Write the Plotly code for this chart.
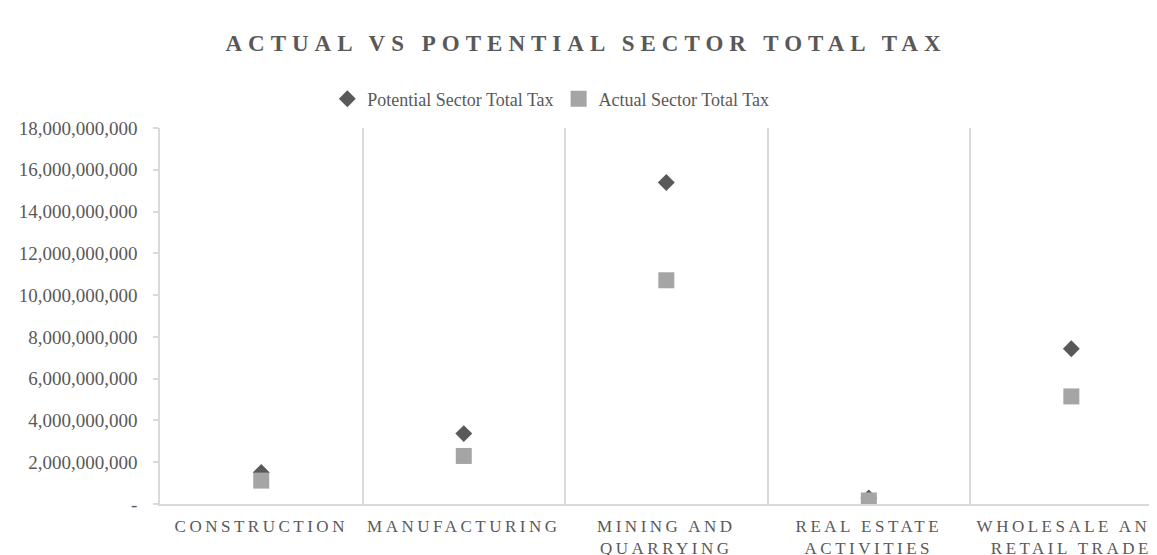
import plotly.graph_objects as go

categories = ["Construction", "Manufacturing", "Mining and Quarrying",
              "Real Estate Activities", "Wholesale and Retail Trade"]
category_labels = ["CONSTRUCTION", "MANUFACTURING", "MINING AND<br>QUARRYING",
                   "REAL ESTATE<br>ACTIVITIES", "WHOLESALE AND<br>RETAIL TRADE"]
potential_tax = [1.51e9, 3.37e9, 15.39e9, 0.29e9, 7.43e9]
actual_tax = [1.12e9, 2.30e9, 10.71e9, 0.17e9, 5.15e9]
y_tick_values = [0, 2e9, 4e9, 6e9, 8e9, 10e9, 12e9, 14e9, 16e9, 18e9]
y_tick_labels = ["-"] + [f"{v:,.0f}" for v in y_tick_values[1:]]

FONT = "Liberation Serif"
TXT = "#595959"
GRID = "#D9D9D9"

# page body has an 8px margin; the figure is sized to fill the visible window
W, H = 1149, 547


def spaced(s, ls):
    return "<br>".join(f'<span style="letter-spacing:{ls}px">{p}</span>' for p in s.split("<br>"))


fig = go.Figure()
fig.add_trace(go.Scatter(
    x=categories, y=potential_tax, mode="markers", name="Potential Sector Total Tax",
    marker=dict(symbol="diamond", size=13, color="#595959"),
))
fig.add_trace(go.Scatter(
    x=categories, y=actual_tax, mode="markers", name="Actual Sector Total Tax",
    marker=dict(symbol="square", size=16, color="#A5A5A5"),
))

fig.update_layout(
    width=W, height=H,
    margin=dict(l=152, r=0, t=119.5, b=50.5, autoexpand=False),
    paper_bgcolor="white", plot_bgcolor="white",
    font=dict(family=FONT, color=TXT),
    title=dict(
        text=spaced("<b>ACTUAL VS POTENTIAL SECTOR TOTAL TAX</b>", 6),
        x=(586 - 8) / W, xanchor="center", y=1 - (43 - 8) / H, yanchor="middle",
        font=dict(family=FONT, size=23, color=TXT),
    ),
    legend=dict(
        orientation="h", x=0.392, xanchor="center",
        yref="container", y=1 - (99 - 8) / H, yanchor="middle",
        font=dict(family=FONT, size=18, color=TXT),
        itemwidth=30, tracegroupgap=0,
    ),
    showlegend=True,
)

fig.update_xaxes(
    type="category", range=[-0.5, 4.423],
    tickvals=categories, ticktext=[spaced(l, 3.5) for l in category_labels],
    tickangle=0, automargin=False, ticklabelstandoff=6,
    tickson="boundaries", showgrid=True, gridcolor=GRID, gridwidth=1.5,
    showline=True, linecolor=GRID, linewidth=1.5,
    ticks="", tickfont=dict(family=FONT, size=17, color=TXT),
    zeroline=False,
)
fig.update_yaxes(
    range=[0, 18e9], tickvals=y_tick_values, ticktext=y_tick_labels,
    automargin=False,
    showgrid=False, zeroline=False,
    showline=True, linecolor=GRID, linewidth=1.5,
    ticks="outside", ticklen=5, tickcolor=GRID, tickwidth=1.5,
    ticklabelstandoff=12,
    tickfont=dict(family=FONT, size=19, color=TXT),
)

fig.write_html("out.html")
